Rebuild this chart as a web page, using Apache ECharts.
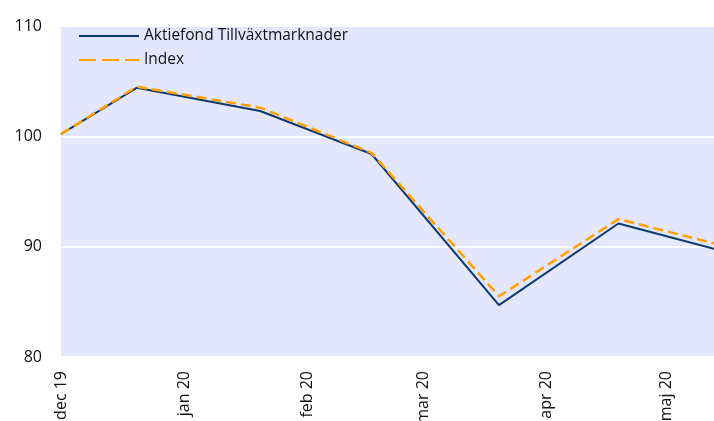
<!DOCTYPE html>
<html>
<head>
<meta charset="utf-8">
<script src="https://cdn.jsdelivr.net/npm/echarts@6/dist/echarts.min.js"></script>
<style>
  html, body { margin: 0; padding: 0; background: #fff; }
  #chart { width: 714px; height: 421px; }
</style>
</head>
<body>
<div id="chart"></div>
<script>
// datum och värden
var dates = ['2019-12-01', '2019-12-20', '2020-01-20', '2020-02-17', '2020-03-20', '2020-04-19', '2020-05-13'];
var fond = [100.2, 104.4, 102.3, 98.4, 84.7, 92.1, 89.8];
var index = [100.2, 104.5, 102.6, 98.5, 85.5, 92.5, 90.3];
var monthTicks = ['2019-12-01', '2020-01-01', '2020-02-01', '2020-03-01', '2020-04-01', '2020-05-01'];
var monthNames = ['jan', 'feb', 'mar', 'apr', 'maj', 'jun', 'jul', 'aug', 'sep', 'okt', 'nov', 'dec'];

// dagar sedan första datumet
var DAY = 86400000;
var t0 = Date.UTC(2019, 11, 1);
function toDay(s) {
  var p = s.split('-');
  return Math.round((Date.UTC(+p[0], +p[1] - 1, +p[2]) - t0) / DAY);
}
function dayLabel(v) {
  var d = new Date(t0 + v * DAY);
  return monthNames[d.getUTCMonth()] + ' ' + String(d.getUTCFullYear()).slice(2);
}

var font = '"Open Sans", sans-serif';

var myChart = echarts.init(document.getElementById('chart'));
myChart.setOption({
  animation: false,
  grid: {
    left: 61, right: 0, top: 26, bottom: 64,
    containLabel: false,
    outerBoundsMode: 'none',
    show: true,
    backgroundColor: '#e4e6fc',
    borderWidth: 0
  },
  legend: {
    orient: 'vertical',
    left: 73, top: 23,
    itemWidth: 60, itemHeight: 14, itemGap: 8,
    itemStyle: { opacity: 0 },
    textStyle: { fontFamily: font, fontSize: 15.5, color: '#111' },
    data: [
      { name: 'Aktiefond Tillväxtmarknader' },
      { name: 'Index', lineStyle: { type: [17, 6] } }  // längre streck i förklaringen
    ]
  },
  xAxis: {
    type: 'value',
    min: toDay(dates[0]),
    max: toDay(dates[dates.length - 1]),
    axisLine: { show: false },
    axisTick: { show: false },
    splitLine: { show: false },
    axisLabel: {
      rotate: 90,
      margin: 14,
      fontFamily: font, fontSize: 16, color: '#111',
      customValues: monthTicks.map(toDay),
      formatter: dayLabel
    }
  },
  yAxis: {
    type: 'value',
    min: 80, max: 110, interval: 10,
    axisLine: { show: false },
    axisTick: { show: false },
    splitLine: { lineStyle: { color: '#ffffff', width: 2 } },
    axisLabel: { margin: 19, fontFamily: font, fontSize: 16, color: '#111' }
  },
  series: [
    {
      name: 'Aktiefond Tillväxtmarknader',
      type: 'line',
      symbol: 'none',
      data: dates.map(function (d, i) { return [toDay(d), fond[i]]; }),
      lineStyle: { color: '#0b3a6e', width: 2 },
      itemStyle: { color: '#0b3a6e' }
    },
    {
      name: 'Index',
      type: 'line',
      symbol: 'none',
      data: dates.map(function (d, i) { return [toDay(d), index[i]]; }),
      lineStyle: { color: '#ffa000', width: 2.5, type: [10, 5] },
      itemStyle: { color: '#ffa000' }
    }
  ]
});
</script>
</body>
</html>
